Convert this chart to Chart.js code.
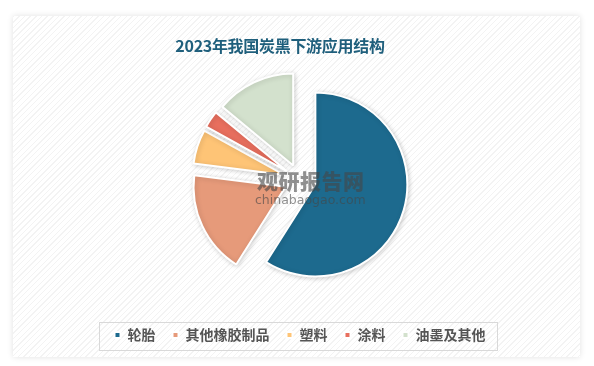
<!DOCTYPE html>
<html>
<head>
<meta charset="utf-8">
<script src="https://cdn.jsdelivr.net/npm/chart.js@4/dist/chart.umd.min.js"></script>
<style>
    html, body {
        margin: 0;
        padding: 0;
        width: 594px;
        height: 366px;
        background: #ffffff;
        overflow: hidden;
    }
    #card {
        position: absolute;
        left: 13px;
        top: 16px;
        width: 567px;
        height: 341px;
        background-color: #ffffff;
        background-image: repeating-linear-gradient(135deg, #f3f3f3 0px, #f3f3f3 1px, #ffffff 1px, #ffffff 4px);
        box-shadow: 0 0 6px rgba(0, 0, 0, 0.12);
    }
    #title {
        position: absolute;
        left: 0;
        width: 560px;
        top: 33px;
        text-align: center;
        font-family: "Noto Sans CJK SC", sans-serif;
        font-weight: bold;
        font-size: 16px;
        color: #1f5f7c;
        letter-spacing: -0.3px;
    }
    #mark {
        position: absolute;
        left: 255px;
        top: 168px;
        color: rgba(70, 70, 70, 0.6);
        font-family: "Noto Sans CJK SC", sans-serif;
        pointer-events: none;
    }
    #mark .big {
        margin-left: 2px;
        font-size: 21px;
        font-weight: 900;
        line-height: 25px;
        letter-spacing: 0.5px;
    }
    #mark .small {
        font-size: 12.5px;
        line-height: 14px;
        font-family: "DejaVu Sans", sans-serif;
    }
    #ChartPie {
        position: absolute;
        left: 0;
        top: 0;
    }
</style>
</head>
<body>
<div id="card"></div>
<canvas id="ChartPie" width="594" height="366"></canvas>
<div id="title">2023年我国炭黑下游应用结构</div>
<div id="mark"><div class="big">观研报告网</div><div class="small">chinabaogao.com</div></div>

<script>
const labels = ['轮胎', '其他橡胶制品', '塑料', '涂料', '油墨及其他'];
const shares = [59, 18, 6, 3, 14];
const colors = ['#1d6a8e', '#e69a7a', '#fec476', '#e86f5e', '#d3e1cd'];
const explode = 16;

// draws the grey frame round the legend
const legendBox = {
    id: 'legendBox',
    afterDraw(chart) {
        const ctx = chart.ctx;
        ctx.save();
        ctx.strokeStyle = '#d9d9d9';
        ctx.lineWidth = 1;
        ctx.strokeRect(99.5, 322.5, 398, 28);
        ctx.restore();
    }
};

// pulls every slice out along its middle angle, same radius for all, with a soft shadow
const explodedSlices = {
    id: 'explodedSlices',
    beforeDatasetDraw(chart, args) {
        const ctx = chart.ctx;
        const meta = chart.getDatasetMeta(args.index);
        ctx.save();
        ctx.shadowColor = 'rgba(0, 0, 0, 0.18)';
        ctx.shadowBlur = 5;
        ctx.shadowOffsetX = 1;
        ctx.shadowOffsetY = 1;
        meta.data.forEach(arc => {
            const mid = (arc.startAngle + arc.endAngle) / 2;
            ctx.save();
            ctx.translate(Math.cos(mid) * explode, Math.sin(mid) * explode);
            arc.draw(ctx);
            ctx.restore();
        });
        ctx.restore();
        return false;
    }
};

const chartPie = document.getElementById('ChartPie');
new Chart(chartPie, {
    type: 'pie',
    data: {
        labels: labels,
        datasets: [{
            data: shares,
            backgroundColor: colors,
            borderColor: '#ffffff',
            borderWidth: 2
        }]
    },
    options: {
        responsive: false,
        animation: false,
        radius: 92,
        layout: {
            padding: {left: 6, right: 0, top: 49, bottom: 14}
        },
        plugins: {
            legend: {
                position: 'bottom',
                labels: {
                    boxWidth: 6,
                    boxHeight: 6,
                    padding: 17,
                    color: '#555555',
                    font: {family: '"Noto Sans CJK SC", sans-serif', size: 14, weight: 'bold'}
                }
            },
            tooltip: {enabled: false}
        }
    },
    plugins: [explodedSlices, legendBox]
});
</script>
</body>
</html>
